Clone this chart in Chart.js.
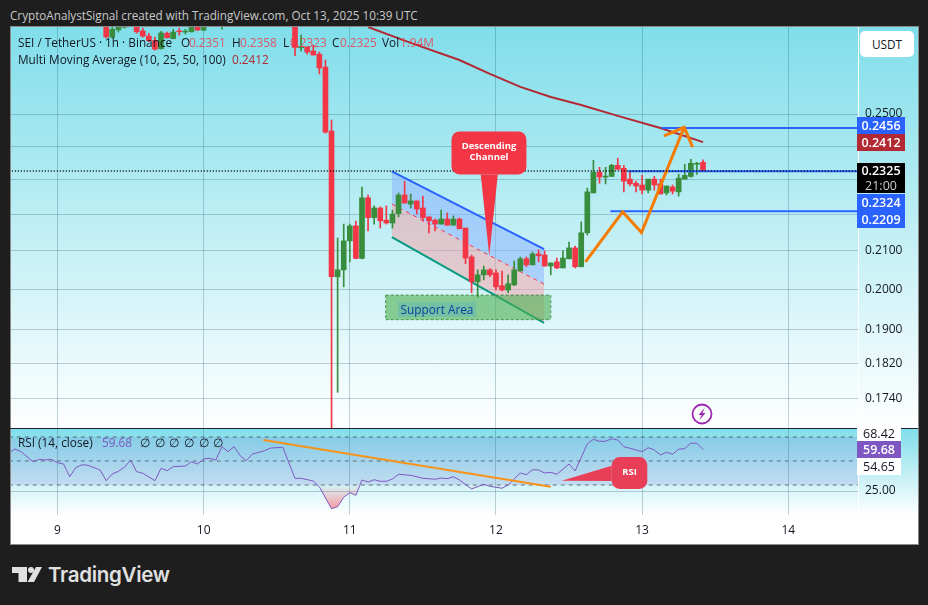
<!DOCTYPE html>
<html>
<head>
<meta charset="utf-8">
<title>SEI / TetherUS</title>
<script src="https://cdn.jsdelivr.net/npm/chart.js@4"></script>
<style>
  html, body { margin: 0; padding: 0; background: #1e1e1e; }
  body { width: 928px; height: 605px; position: relative; overflow: hidden; font-family: "Open Sans", sans-serif; font-size: 11.8px; color: #131722; }
  .abs { position: absolute; white-space: nowrap; }
  #frame { left: 10px; top: 26px; width: 907px; height: 517px; border: 1px solid #8a8a8a; background: #fff; }
  #mainWrap { left: 11px; top: 27px; width: 907px; height: 401px; background: linear-gradient(#80deea, #ffffff); }
  #rsiWrap { left: 11px; top: 429px; width: 907px; height: 86px; background: linear-gradient(#80deea, #ffffff); }
  canvas { position: absolute; display: block; }
  .red { color: rgba(242, 54, 69, 0.8); }
  .flag { width: 48px; height: 17px; line-height: 17px; text-align: center; color: #fff; font-weight: 600; font-size: 12.5px; left: 857px; }
  .rsiFlag { width: 44px; height: 17px; line-height: 17px; text-align: center; font-size: 12.5px; left: 857px; background: #fff; }
</style>
</head>
<body>
<div class="abs" style="left:10px;top:7px;color:#c8c8c8;font-size:11.7px;font-weight:500">CryptoAnalystSignal created with TradingView.com, Oct 13, 2025 10:39 UTC</div>

<div class="abs" id="frame"></div>
<div class="abs" id="mainWrap"><canvas id="mainChart" width="907" height="401"></canvas></div>
<div class="abs" style="left:10px;top:428px;width:908px;height:1px;background:#1e222d"></div>
<div class="abs" id="rsiWrap"></div>
<canvas id="rsiChart" width="907" height="116" style="left:11px;top:429px"></canvas>
<div class="abs" style="left:858px;top:27px;width:1px;height:488px;background:#fff"></div>

<!-- legend -->
<div class="abs" style="left:18px;top:34px">SEI / TetherUS · 1h · Binance</div>
<div class="abs" style="left:181px;top:34px">O</div><div class="abs red" style="left:189px;top:34px">0.2351</div>
<div class="abs" style="left:232px;top:34px">H</div><div class="abs red" style="left:240px;top:34px">0.2358</div>
<div class="abs" style="left:283px;top:34px">L</div><div class="abs red" style="left:290px;top:34px">0.2323</div>
<div class="abs" style="left:332px;top:34px">C</div><div class="abs red" style="left:340px;top:34px">0.2325</div>
<div class="abs" style="left:382px;top:34px">Vol</div><div class="abs red" style="left:400px;top:34px">1.94M</div>
<div class="abs" style="left:18px;top:51px">Multi Moving Average (10, 25, 50, 100)</div>
<div class="abs" style="left:232px;top:51px;color:#b22833">0.2412</div>

<div class="abs" style="left:18px;top:434px">RSI (14, close)</div>
<div class="abs" style="left:102px;top:434px;color:#7e57c2">59.68</div>
<div class="abs" style="left:140px;top:434px;word-spacing:1.6px">∅ ∅ ∅ ∅ ∅ ∅</div>

<!-- support label -->
<div class="abs" style="left:398px;top:302px;width:78px;height:15px;line-height:15px;text-align:center;background:rgba(33,150,243,0.18);color:#0d3fa0">Support Area</div>

<!-- price flags -->
<div class="abs" style="left:860px;top:31px;width:54px;height:26px;line-height:26px;text-align:center;background:#fff;border-radius:5px">USDT</div>
<div class="abs flag" style="top:117px;background:#2962ff">0.2456</div>
<div class="abs flag" style="top:134px;background:#b22833">0.2412</div>
<div class="abs flag" style="top:163px;height:30px;background:#000;line-height:15px">0.2325<br><span style="font-weight:400;color:#ccc">21:00</span></div>
<div class="abs flag" style="top:194px;background:#2962ff">0.2324</div>
<div class="abs flag" style="top:211px;background:#2962ff">0.2209</div>

<div class="abs rsiFlag" style="top:426px;height:15px;line-height:15px">68.42</div>
<div class="abs rsiFlag" style="top:441px;background:#7e57c2;color:#fff;font-weight:600">59.68</div>
<div class="abs rsiFlag" style="top:458px">54.65</div>

<!-- flash icon -->
<svg class="abs" style="left:691px;top:403px" width="22" height="22" viewBox="0 0 22 22">
  <circle cx="11" cy="11" r="9.5" fill="none" stroke="#9c27b0" stroke-width="1.8"/>
  <path d="M13.5 5 L7.5 12 H10.5 L8.5 17 L14.5 10 H11.5 Z" fill="#9c27b0"/>
</svg>

<!-- logo -->
<svg class="abs" style="left:12px;top:567px" width="30" height="15" viewBox="0 0 30 15">
  <path d="M0 0H15V15H6.5V6H0Z" fill="#e0e0e0"/>
  <circle cx="19" cy="3" r="3" fill="#e0e0e0"/>
  <path d="M24 0H30L22 15H15.5Z" fill="#e0e0e0"/>
</svg>
<div class="abs" style="left:48px;top:562px;color:#e0e0e0;font-family:Inter,sans-serif;font-size:20.5px;font-weight:600;letter-spacing:-0.3px">TradingView</div>

<script>
// candles, hours counted from Oct 9 00:00 UTC
var hours = [8,9,10,11,13,14,15,16,17,18,19,20,21,22,23,24,27,39,40,41,42,43,44,45,46,47,48,49,50,51,52,53,54,55,56,57,58,59,60,61,62,63,64,65,66,67,68,69,70,71,72,73,74,75,76,77,78,79,80,81,82,83,84,85,86,87,88,89,90,91,92,93,94,95,96,97,98,99,100,101,102,103,104,105,106];
var opens = [.2796,.2757,.2783,.2792,.2800,.2779,.2761,.2745,.2717,.2771,.2752,.2778,.2775,.2776,.2796,.2782,.2796,.2830,.2720,.2722,.2709,.2698,.2654,.2446,.2032,.2050,.2127,.2168,.2080,.2247,.2191,.2218,.2184,.2176,.2202,.2255,.2229,.2238,.2218,.2193,.2184,.2173,.2187,.2170,.2187,.2162,.2084,.2019,.2037,.2050,.2042,.2009,.1998,.2011,.2047,.2079,.2063,.2092,.2089,.2060,.2071,.2055,.2079,.2108,.2058,.2149,.2261,.2321,.2307,.2309,.2342,.2333,.2301,.2289,.2284,.2269,.2301,.2287,.2261,.2278,.2264,.2301,.2309,.2345,.2351];
var highs = [.2810,.2800,.2810,.2815,.2815,.2789,.2771,.2757,.2778,.2775,.2785,.2789,.2785,.2810,.2810,.2812,.2820,.2850,.2764,.2722,.2729,.2705,.2678,.2481,.2135,.2173,.2173,.2181,.2278,.2255,.2224,.2221,.2224,.2212,.2261,.2295,.2258,.2238,.2252,.2193,.2187,.2212,.2204,.2196,.2190,.2162,.2089,.2050,.2060,.2053,.2050,.2047,.2037,.2073,.2084,.2084,.2097,.2103,.2100,.2068,.2081,.2100,.2124,.2113,.2179,.2275,.2357,.2336,.2336,.2345,.2363,.2342,.2321,.2295,.2312,.2301,.2309,.2301,.2281,.2284,.2315,.2345,.2360,.2351,.2358];
var lows = [.2754,.2754,.2775,.2789,.2771,.2757,.2740,.2712,.2715,.2754,.2751,.2764,.2768,.2775,.2780,.2780,.2785,.2693,.2709,.2698,.2695,.2631,.2440,.1660,.1754,.2006,.2071,.2079,.2079,.2154,.2173,.2162,.2173,.2162,.2193,.2232,.2218,.2201,.2181,.2149,.2154,.2173,.2170,.2170,.2160,.2066,.1991,.1980,.2024,.2032,.1998,.1996,.1991,.2009,.2047,.2058,.2063,.2071,.2060,.2037,.2053,.2055,.2079,.2055,.2058,.2143,.2261,.2289,.2287,.2309,.2330,.2264,.2281,.2264,.2258,.2261,.2269,.2258,.2255,.2258,.2252,.2301,.2307,.2315,.2323];
var closes = [.2758,.2785,.2794,.2797,.2776,.2761,.2745,.2715,.2772,.2755,.2775,.2776,.2777,.2793,.2782,.2796,.2810,.2721,.2722,.2705,.2695,.2651,.2443,.2032,.2050,.2127,.2168,.2080,.2247,.2191,.2218,.2182,.2176,.2201,.2255,.2232,.2238,.2215,.2191,.2182,.2173,.2187,.2170,.2187,.2160,.2081,.2019,.2037,.2050,.2037,.2006,.1998,.2014,.2050,.2079,.2063,.2092,.2087,.2060,.2068,.2055,.2081,.2108,.2058,.2149,.2264,.2321,.2307,.2309,.2342,.2330,.2295,.2287,.2281,.2269,.2301,.2284,.2258,.2281,.2266,.2304,.2312,.2348,.2348,.2325];

// moving average
var maHours = [51,58,66,71,76,81,86,92,99,106];
var maValues = [.2793,.2737,.2678,.2631,.2588,.2555,.2529,.2494,.2456,.2412];

// drawings on the price pane
var channelHours = [54.9,79.9];
var channelTop = [.2324,.2105];
var channelMid = [.2229,.2013];
var channelBottom = [.2137,.1916];
var supportHours = [53.9,81];
var supportTop = [.1985,.1985];
var supportBottom = [.1924,.1924];
var pathHours = [86.7,92.8,95.9,102.9];
var pathPrices = [.2071,.2207,.2150,.2458];
var arrowHours = [99.6,102.9,104.3];
var arrowPrices = [.2431,.2458,.2397];
var levelA = [.2456,.2456], levelAHours = [99.2,131.5];
var levelB = [.2324,.2324], levelBHours = [93.7,131.5];
var levelC = [.2209,.2209], levelCHours = [90.8,131.5];
var lastPrice = [.2325,.2325], lastHours = [-8,131.5];

// axes
var dayHours = [0,24,48,72,96,120];
var dayLabels = ["9","10","11","12","13","14"];
var priceTicks = [.25,.24,.23,.22,.21,.2,.19,.182,.174];
var priceLabels = ["0.2500","","","","0.2100","0.2000","0.1900","0.1820","0.1740"];
var rsiTicks = [25];
var rsiLabels = ["25.00"];

// RSI
var rsiHours = [-8,-7,-6,-4,-3,-2,-1,0,1,2,3,4,5,7,8,9,10,11,12,13,14,16,17,18,19,21,22,23,24,25,26,27,28,29,30,31,32,34,35,37,39,40,42,43,44,45,46,47,48,49,50,51,52,53,54,55,56,58,60,62,63,64,65,66,68,70,71,73,74,76,77,78,79,80,81,82,84,85,87,88,89,90,91,92,93,94,96,97,98,99,100,101,102,103,104,105,106];
var rsiValues = [56.7,60,57.8,49.4,51.4,50.8,51.4,48.6,47.5,36.9,44.4,46.9,46.4,42.5,33.6,39.2,41.4,44.8,50.8,41.1,39.8,33.6,43.9,41.9,45.3,45.8,49.4,47.5,51.7,52.3,50.8,61.9,57.8,61.9,54.4,50.3,55.8,58.6,60.8,61.4,35.6,35.6,33.3,28.6,19.2,10.3,11.9,19.8,23.6,21.4,34.2,32.5,34.4,33.1,33.1,35,38.9,38.1,35.6,34.8,35.8,35.3,36.9,34.2,26.7,30.6,28.9,27.3,30,40,38.6,42.8,42.5,40,40.6,38.9,47.5,41.7,64.2,68.1,66.4,66.4,68.6,67.5,61.9,60.6,57.8,61.1,59.2,55,57.3,55.6,59.8,60.3,64.8,64.8,59.68];
var rsiLevelHours = [-8,132];
var rsiTrendHours = [33.8,81];
var rsiTrendValues = [67.5,28.6];

// callouts, given in axis values
var descCallout = { box: [64.7,77,.2445,.2315], pointer: [[69.5,.2315],[70.9,.2087],[72.3,.2315]], lines: ["Descending","Channel"], color: "#f23645" };
var rsiCallout = { box: [91,96.85,53.3,26.7], pointer: [[91,46.1],[82.8,33.6],[91,33.3]], lines: ["RSI"], color: "#e83e58" };

const GRID = "rgba(40,90,110,0.28)";
const TEXT = "#131722";
const FONT = "'Open Sans', sans-serif";
const GREEN = "#388e3c";
const RED = "#f23645";

function points(xs, ys) {
  return xs.map((x, i) => ({ x: x, y: ys[i] }));
}

function line(xs, ys, color, width, order, extra) {
  return Object.assign({
    type: "line", data: points(xs, ys), borderColor: color, borderWidth: width,
    pointRadius: 0, tension: 0, fill: false, order: order
  }, extra || {});
}

function flat(v) {
  return [v, v];
}

// draws a speech bubble using the chart's own scales
function calloutPlugin(c) {
  return {
    id: "callout",
    afterDatasetsDraw(chart) {
      const ctx = chart.ctx, sx = chart.scales.x, sy = chart.scales.y;
      const x0 = sx.getPixelForValue(c.box[0]), x1 = sx.getPixelForValue(c.box[1]);
      const y0 = sy.getPixelForValue(c.box[2]), y1 = sy.getPixelForValue(c.box[3]);
      ctx.save();
      ctx.fillStyle = c.color;
      ctx.beginPath();
      ctx.roundRect(x0, y0, x1 - x0, y1 - y0, 8);
      ctx.fill();
      ctx.beginPath();
      c.pointer.forEach((p, i) => {
        const px = sx.getPixelForValue(p[0]), py = sy.getPixelForValue(p[1]);
        if (i == 0) ctx.moveTo(px, py); else ctx.lineTo(px, py);
      });
      ctx.closePath();
      ctx.fill();
      ctx.fillStyle = "#fff";
      ctx.font = "bold 9.5px " + FONT;
      ctx.textAlign = "center";
      ctx.textBaseline = "middle";
      c.lines.forEach((t, i) => {
        ctx.fillText(t, (x0 + x1) / 2, (y0 + y1) / 2 - 1 + (i - (c.lines.length - 1) / 2) * 11);
      });
      ctx.restore();
    }
  };
}

function timeScale(showLabels) {
  return {
    type: "linear", min: -7.635, max: 131.45, offset: false,
    afterBuildTicks: (s) => { s.ticks = dayHours.map((v) => ({ value: v })); },
    afterFit: (s) => { s.height = showLabels ? 30 : 0; s.paddingLeft = 0; s.paddingRight = 0; },
    grid: { color: GRID, drawTicks: false, offset: false },
    border: { display: false },
    ticks: {
      display: showLabels, autoSkip: false, maxRotation: 0, padding: 8, color: TEXT,
      font: { family: FONT, size: 12 },
      callback: (v, i) => dayLabels[i]
    }
  };
}

function valueScale(type, min, max, tickValues, tickLabels) {
  return {
    type: type, position: "right", min: min, max: max,
    afterBuildTicks: (s) => { s.ticks = tickValues.map((v) => ({ value: v })); },
    afterFit: (s) => { s.width = 60; s.paddingTop = 0; s.paddingBottom = 0; },
    grid: { color: GRID, drawTicks: false },
    border: { display: false },
    ticks: {
      autoSkip: false, padding: 7, color: TEXT, font: { family: FONT, size: 12 },
      callback: (v, i) => tickLabels[i]
    }
  };
}

var wicks = hours.map((h, i) => ({ x: h, y: [lows[i], highs[i]] }));
var bodies = hours.map((h, i) => ({ x: h, y: [Math.min(opens[i], closes[i]), Math.max(opens[i], closes[i])] }));
var candleColors = hours.map((h, i) => (closes[i] >= opens[i] ? GREEN : RED));

new Chart(document.getElementById("mainChart"), {
  type: "bar",
  data: {
    datasets: [
      line(channelHours, channelTop, "#2962ff", 2, 20, { fill: "+1", backgroundColor: "rgba(140,180,255,0.55)" }),
      line(channelHours, channelMid, RED, 1, 19, { borderDash: [4, 4], fill: "+1", backgroundColor: "rgba(245,160,165,0.5)" }),
      line(channelHours, channelBottom, "#089981", 2, 18),
      line(supportHours, supportTop, "rgba(46,125,50,0.9)", 1, 5, { borderDash: [3, 2], fill: "+1", backgroundColor: "rgba(76,175,80,0.6)" }),
      line(supportHours, supportBottom, "rgba(46,125,50,0.9)", 1, 5, { borderDash: [3, 2] }),
      line(flat(supportHours[0]), [supportTop[0], supportBottom[0]], "rgba(46,125,50,0.9)", 1, 5, { borderDash: [3, 2] }),
      line(flat(supportHours[1]), [supportTop[0], supportBottom[0]], "rgba(46,125,50,0.9)", 1, 5, { borderDash: [3, 2] }),
      { type: "bar", data: wicks, backgroundColor: candleColors, barThickness: 1, grouped: false, order: 11 },
      { type: "bar", data: bodies, backgroundColor: candleColors, barThickness: 5, minBarLength: 1, grouped: false, order: 10 },
      line(maHours, maValues, "#b22833", 2, 4),
      line(levelAHours, levelA, "#2962ff", 2, 3),
      line(levelBHours, levelB, "#2962ff", 2, 3),
      line(levelCHours, levelC, "#2962ff", 2, 3),
      line(lastHours, lastPrice, "#000", 1.5, 1, { borderDash: [1, 2] }),
      line(pathHours, pathPrices, "#f57c00", 3, 2),
      line(arrowHours, arrowPrices, "#f57c00", 3, 2)
    ]
  },
  options: {
    responsive: false, animation: false, devicePixelRatio: 1,
    layout: { padding: 0 },
    plugins: { legend: { display: false }, tooltip: { enabled: false } },
    scales: {
      x: timeScale(false),
      y: valueScale("logarithmic", .1676, .2793, priceTicks, priceLabels)
    }
  },
  plugins: [calloutPlugin(descCallout)]
});

var rsiCanvas = document.getElementById("rsiChart");
var oversold = rsiCanvas.getContext("2d").createLinearGradient(0, 56, 0, 80);
oversold.addColorStop(0, "rgba(242,54,69,0)");
oversold.addColorStop(1, "rgba(242,54,69,0.5)");

new Chart(rsiCanvas, {
  type: "line",
  data: {
    datasets: [
      line(rsiLevelHours, flat(70), "rgba(60,70,80,0.75)", 1, 8, { borderDash: [4, 4], fill: "+1", backgroundColor: "rgba(100,90,200,0.15)" }),
      line(rsiLevelHours, flat(30), "rgba(60,70,80,0.75)", 1, 8, { borderDash: [4, 4] }),
      line(rsiLevelHours, flat(50), "rgba(60,70,80,0.75)", 1, 8, { borderDash: [4, 4] }),
      line(rsiHours, rsiValues, "#7e57c2", 1, 3, { fill: { target: { value: 30 }, above: "rgba(0,0,0,0)", below: oversold } }),
      line(rsiTrendHours, rsiTrendValues, "#f7931a", 2, 2)
    ]
  },
  options: {
    responsive: false, animation: false, devicePixelRatio: 1,
    layout: { padding: 0 },
    plugins: { legend: { display: false }, tooltip: { enabled: false } },
    scales: {
      x: timeScale(true),
      y: valueScale("linear", 5, 76.67, rsiTicks, rsiLabels)
    }
  },
  plugins: [calloutPlugin(rsiCallout)]
});
</script>
</body>
</html>
